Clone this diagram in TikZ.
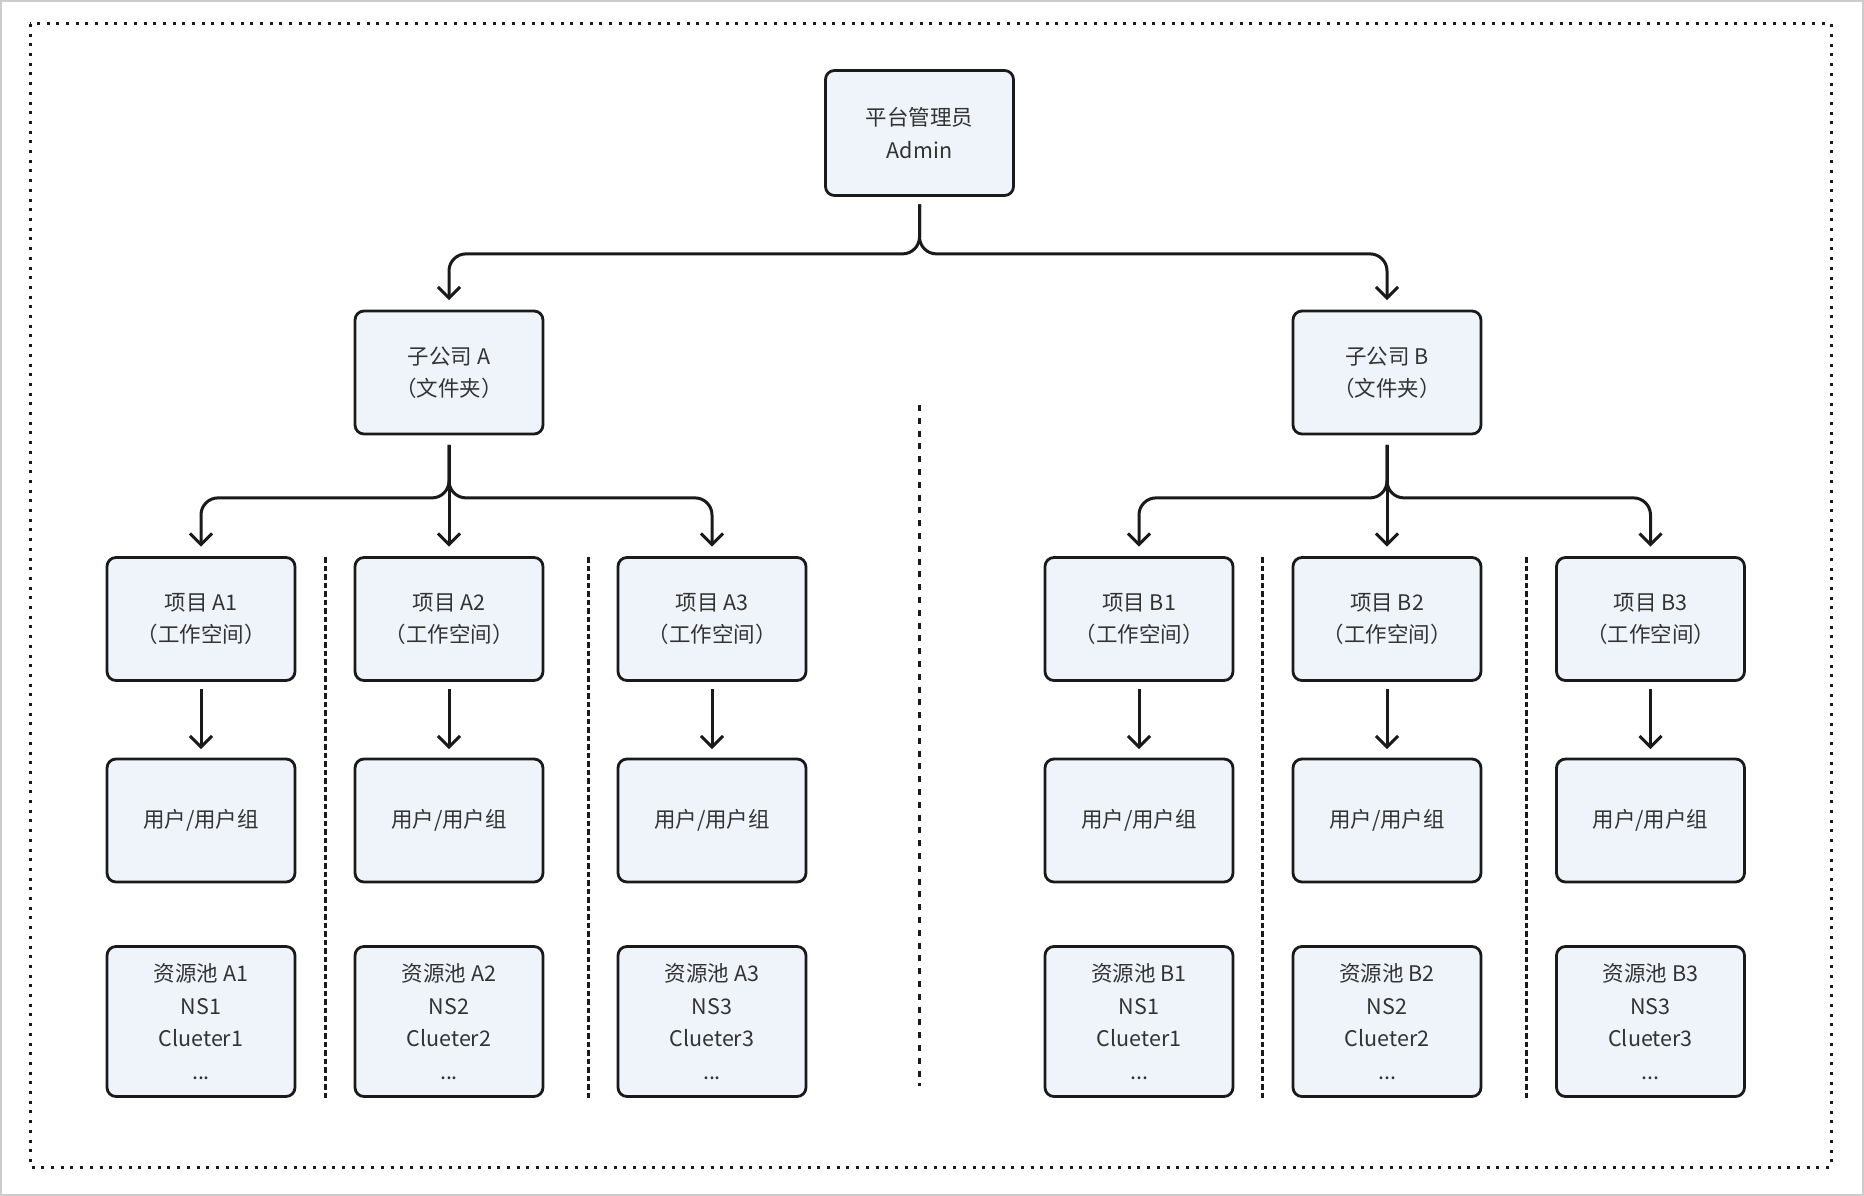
\documentclass[tikz,border=0pt]{standalone}
\usepackage{fontspec}
\setmainfont{Noto Sans CJK SC}[RawFeature=+halt]
\usepackage{xcolor}
\usepackage{tikz}
\usetikzlibrary{arrows.meta,positioning}
\definecolor{boxfill}{HTML}{EFF3FA}
\definecolor{boxline}{HTML}{1A1A1A}
\definecolor{txt}{HTML}{333333}

\begin{document}
\begin{tikzpicture}[x=1pt, y=-1pt,
  box/.style={draw=boxline, line width=2.8pt, rounded corners=9pt, fill=boxfill, text=txt,
    minimum width=188pt, minimum height=123pt, inner sep=0pt, align=center,
    font=\fontsize{21.5pt}{32.5pt}\selectfont},
  pool/.style={box, minimum height=150pt},
  conn/.style={draw=boxline, line width=3pt, rounded corners=17pt, -{Straight Barb[length=11pt,width=22pt]}},
  sepline/.style={draw=boxline, line width=3pt, dash pattern=on 5.5pt off 3pt},
  midline/.style={draw=boxline, line width=3pt, dash pattern=on 6pt off 6.8pt}
]
\useasboundingbox (0,0) rectangle (1864,1196);
\draw[black!20, line width=1.5pt] (1,1) rectangle (1863,1195);
\draw[boxline, line width=3pt, dash pattern=on 3pt off 6.7pt] (30,24) rectangle (1831,1167);

% top level
\node[box, minimum height=125pt] (admin) at (919.5,133) {平台管理员\\Admin};

% subsidiaries
\node[box] (subA) at (449,372.5) {子公司 A\\（文件夹）};
\node[box] (subB) at (1387,372.5) {子公司 B\\（文件夹）};

% projects
\node[box] (pA1) at (201,619) {项目 A1\\（工作空间）};
\node[box] (pA2) at (449,619) {项目 A2\\（工作空间）};
\node[box] (pA3) at (712,619) {项目 A3\\（工作空间）};
\node[box] (pB1) at (1139,619) {项目 B1\\（工作空间）};
\node[box] (pB2) at (1387,619) {项目 B2\\（工作空间）};
\node[box] (pB3) at (1650.5,619) {项目 B3\\（工作空间）};

% users
\node[box] (uA1) at (201,820.5) {用户/用户组};
\node[box] (uA2) at (449,820.5) {用户/用户组};
\node[box] (uA3) at (712,820.5) {用户/用户组};
\node[box] (uB1) at (1139,820.5) {用户/用户组};
\node[box] (uB2) at (1387,820.5) {用户/用户组};
\node[box] (uB3) at (1650.5,820.5) {用户/用户组};

% resource pools
\node[pool] (rA1) at (201,1021.5) {资源池 A1\\NS1\\Clueter1\\...};
\node[pool] (rA2) at (449,1021.5) {资源池 A2\\NS2\\Clueter2\\...};
\node[pool] (rA3) at (712,1021.5) {资源池 A3\\NS3\\Clueter3\\...};
\node[pool] (rB1) at (1139,1021.5) {资源池 B1\\NS1\\Clueter1\\...};
\node[pool] (rB2) at (1387,1021.5) {资源池 B2\\NS2\\Clueter2\\...};
\node[pool] (rB3) at (1650.5,1021.5) {资源池 B3\\NS3\\Clueter3\\...};

% admin -> subsidiaries
\draw[conn] ([yshift=-7.5pt]admin.south) -- ++(0,49.5) -| ([yshift=9.5pt]subA.north);
\draw[conn] ([yshift=-7.5pt]admin.south) -- ++(0,49.5) -| ([yshift=9.5pt]subB.north);

% subsidiaries -> projects
\draw[conn] ([yshift=-9.5pt]subA.south) -- ++(0,53) -| ([yshift=9.5pt]pA1.north);
\draw[conn] ([yshift=-9.5pt]subA.south) -- ([yshift=9.5pt]pA2.north);
\draw[conn] ([yshift=-9.5pt]subA.south) -- ++(0,53) -| ([yshift=9.5pt]pA3.north);
\draw[conn] ([yshift=-9.5pt]subB.south) -- ++(0,53) -| ([yshift=9.5pt]pB1.north);
\draw[conn] ([yshift=-9.5pt]subB.south) -- ([yshift=9.5pt]pB2.north);
\draw[conn] ([yshift=-9.5pt]subB.south) -- ++(0,53) -| ([yshift=9.5pt]pB3.north);

% projects -> users
\draw[conn] ([yshift=-7.5pt]pA1.south) -- ([yshift=8.5pt]uA1.north);
\draw[conn] ([yshift=-7.5pt]pA2.south) -- ([yshift=8.5pt]uA2.north);
\draw[conn] ([yshift=-7.5pt]pA3.south) -- ([yshift=8.5pt]uA3.north);
\draw[conn] ([yshift=-7.5pt]pB1.south) -- ([yshift=8.5pt]uB1.north);
\draw[conn] ([yshift=-7.5pt]pB2.south) -- ([yshift=8.5pt]uB2.north);
\draw[conn] ([yshift=-7.5pt]pB3.south) -- ([yshift=8.5pt]uB3.north);

% separators
\draw[sepline] (325,557) -- (325,1098);
\draw[sepline] (588,557) -- (588,1098);
\draw[sepline] (1262,557) -- (1262,1098);
\draw[sepline] (1526,557) -- (1526,1098);
\draw[midline] (919,405) -- (919,1086);
\end{tikzpicture}
\end{document}
